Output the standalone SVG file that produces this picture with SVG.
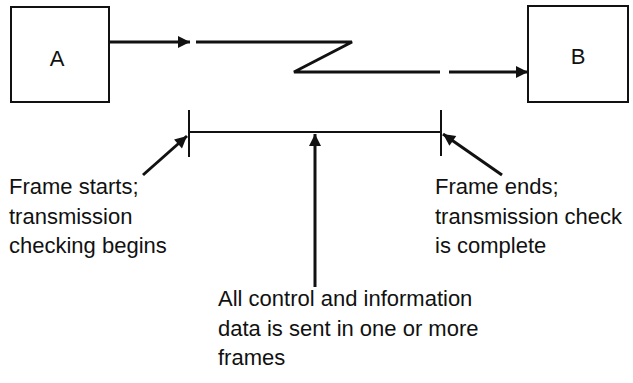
<svg xmlns="http://www.w3.org/2000/svg" width="633" height="383" viewBox="0 0 633 383">
<style>
.box{fill:#fff;stroke:#111;stroke-width:2}
.lbl{font-family:"Liberation Sans",Arial,sans-serif;font-size:22px;fill:#111}
.c{fill:none;stroke:#111;stroke-width:3}
.t{fill:none;stroke:#111;stroke-width:2}
</style>
<defs>
<marker id="ah" viewBox="0 0 10 10" refX="10" refY="5" markerWidth="6.5" markerHeight="4" markerUnits="strokeWidth" orient="auto">
<path d="M0,0 L10,5 L0,10 Z" fill="#111"/>
</marker>
</defs>
<rect width="633" height="383" fill="#fff"/>
<g id="nodeA">
<rect class="box" x="11" y="7" width="98" height="95"/>
<text class="lbl" x="57" y="66" text-anchor="middle">A</text>
</g>
<g id="nodeB">
<rect class="box" x="528" y="6" width="100" height="96"/>
<text class="lbl" x="578" y="64" text-anchor="middle">B</text>
</g>
<g id="connectors">
<line class="c" x1="109" y1="42" x2="190" y2="42" marker-end="url(#ah)"/>
<polyline class="c" points="196,42 352,42 294,72 440,72"/>
<line class="c" x1="449" y1="72" x2="528" y2="72" marker-end="url(#ah)"/>
<line class="t" x1="189" y1="132" x2="441" y2="132"/>
<line class="t" x1="189" y1="110" x2="189" y2="157"/>
<line class="t" x1="441" y1="110" x2="441" y2="156"/>
<line class="c" x1="143" y1="175" x2="187" y2="136" marker-end="url(#ah)"/>
<line class="c" x1="315" y1="287" x2="315" y2="134" marker-end="url(#ah)"/>
<line class="c" x1="502" y1="175" x2="443" y2="134" marker-end="url(#ah)"/>
</g>
<g id="label-start">
<text class="lbl" x="9" y="194">Frame starts;</text>
<text class="lbl" x="9" y="224">transmission</text>
<text class="lbl" x="9" y="253">checking begins</text>
</g>
<g id="label-end">
<text class="lbl" x="435" y="194">Frame ends;</text>
<text class="lbl" x="435" y="224">transmission check</text>
<text class="lbl" x="435" y="253">is complete</text>
</g>
<g id="label-data">
<text class="lbl" x="218" y="306">All control and information</text>
<text class="lbl" x="218" y="336">data is sent in one or more</text>
<text class="lbl" x="218" y="365">frames</text>
</g>
</svg>
